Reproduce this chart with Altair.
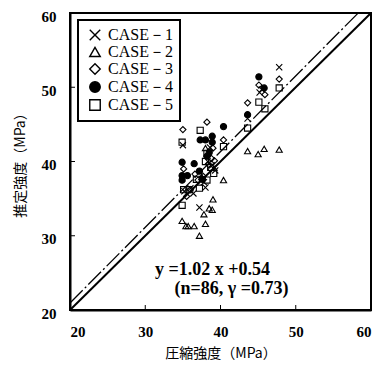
import altair as alt
import pandas as pd

case_names = ["CASE－1", "CASE－2", "CASE－3", "CASE－4", "CASE－5"]

c1_x = [47.8, 45.2, 43.6, 35.0, 37.2, 36.4, 38.6, 35.2, 37.8, 38.9, 39.2, 38.0, 36.0, 34.9, 38.3, 45.5, 39.3]
c1_y = [52.7, 49.3, 45.8, 42.2, 33.8, 35.7, 41.9, 36.0, 37.2, 39.5, 39.2, 36.5, 36.4, 37.7, 40.0, 49.7, 38.8]

c2_x = [43.6, 45.0, 45.8, 47.8, 40.4, 39.0, 38.5, 38.9, 37.8, 38.0, 34.9, 35.4, 35.7, 36.5, 37.2, 38.0, 37.5]
c2_y = [41.4, 41.0, 41.7, 41.6, 37.5, 34.9, 33.7, 33.5, 32.9, 31.6, 32.0, 31.3, 31.3, 31.3, 30.0, 41.8, 37.9]

c3_x = [47.8, 45.1, 45.9, 43.6, 40.4, 35.0, 38.2, 35.1, 36.6, 35.5, 38.4, 38.8, 39.2, 37.7, 36.0, 39.0, 38.7, 37.0]
c3_y = [51.1, 50.3, 49.0, 47.9, 42.9, 44.3, 45.3, 39.0, 38.3, 35.3, 39.6, 40.4, 40.1, 38.0, 36.2, 41.8, 39.0, 37.5]

c4_x = [45.1, 45.8, 43.6, 40.4, 37.3, 38.0, 38.9, 38.9, 38.2, 34.9, 36.5, 37.2, 34.9, 35.6, 34.9, 38.5, 37.6]
c4_y = [51.4, 49.9, 46.3, 44.7, 42.9, 42.9, 43.4, 42.6, 40.7, 39.9, 39.7, 38.7, 38.1, 38.1, 37.5, 41.2, 37.6]

c5_x = [47.8, 45.1, 45.9, 43.6, 40.4, 34.9, 37.3, 38.2, 38.2, 34.9, 35.1, 35.8, 37.2, 38.7, 39.1, 36.8, 38.0]
c5_y = [49.9, 48.0, 47.1, 44.5, 42.0, 42.6, 44.2, 41.1, 37.5, 34.1, 36.2, 36.2, 36.4, 39.2, 38.4, 37.6, 40.0]

axis_ticks = [20, 30, 40, 50, 60]
inner_ticks = [30, 40, 50]

line_1to1_x = [20, 60]
line_1to1_y = [20, 60]
reg_x = [20, 58.3]
reg_y = [20.94, 60.0]

eq_text = ["y =1.02 x +0.54", "(n=86, γ =0.73)"]
eq_x = [31.3, 33.9]
eq_y = [24.7, 22.2]

rows = []
for name, xs, ys in zip(case_names, [c1_x, c2_x, c3_x, c4_x, c5_x], [c1_y, c2_y, c3_y, c4_y, c5_y]):
    for a, b in zip(xs, ys):
        rows.append({"case": name, "x": a, "y": b})
df = pd.DataFrame(rows)

W, H = 301, 297
xs = alt.Scale(domain=[20, 60], nice=False)
ys = alt.Scale(domain=[20, 60], nice=False)

shape_range = ["M-1,-1L1,1M-1,1L1,-1", "triangle-up", "diamond", "circle", "square"]
fill_range = ["transparent", "transparent", "transparent", "black", "transparent"]
stroke_range = ["black", "black", "black", "black", "black"]

legend = alt.Legend(
    title=None, orient="none", legendX=8, legendY=7,
    strokeColor="black", fillColor="white", padding=7,
    labelFont="Liberation Serif", labelFontSize=16, labelColor="black",
    symbolSize=110, symbolStrokeWidth=1.4, symbolStrokeColor="black",
    rowPadding=0, labelOffset=5, symbolOffset=2,
)

points = alt.Chart(df).mark_point(strokeWidth=1.1, size=38, opacity=1).encode(
    x=alt.X("x:Q", scale=xs, title="圧縮強度（MPa）",
            axis=alt.Axis(values=axis_ticks, ticks=False, grid=False, labelPadding=14,
                          titlePadding=7)),
    y=alt.Y("y:Q", scale=ys, title="推定強度（MPa）",
            axis=alt.Axis(values=axis_ticks, ticks=False, grid=False, labelPadding=14,
                          labelOffset=3, titlePadding=14)),
    shape=alt.Shape("case:N", scale=alt.Scale(domain=case_names, range=shape_range), legend=legend),
    fill=alt.Fill("case:N", scale=alt.Scale(domain=case_names, range=fill_range), legend=legend),
    stroke=alt.Stroke("case:N", scale=alt.Scale(domain=case_names, range=stroke_range), legend=legend),
)

one = alt.Chart(pd.DataFrame({"x": line_1to1_x, "y": line_1to1_y})).mark_line(
    color="black", strokeWidth=2).encode(x=alt.X("x:Q", scale=xs), y=alt.Y("y:Q", scale=ys))

reg = alt.Chart(pd.DataFrame({"x": reg_x, "y": reg_y})).mark_line(
    color="black", strokeWidth=1.3, strokeDash=[18, 3, 2, 3]).encode(
    x=alt.X("x:Q", scale=xs), y=alt.Y("y:Q", scale=ys))

xt = alt.Chart(pd.DataFrame({"v": inner_ticks})).mark_rule(color="black", strokeWidth=1).encode(
    x=alt.X("v:Q", scale=xs), y=alt.value(H), y2=alt.value(H - 5))
yt = alt.Chart(pd.DataFrame({"v": inner_ticks})).mark_rule(color="black", strokeWidth=1).encode(
    y=alt.Y("v:Q", scale=ys), x=alt.value(0), x2=alt.value(5))

eqdf = pd.DataFrame({"t": eq_text, "x": eq_x, "y": eq_y})
eq = alt.Chart(eqdf).mark_text(align="left", baseline="alphabetic", font="Liberation Serif",
                               fontSize=18, fontWeight="bold", color="black").encode(
    x=alt.X("x:Q", scale=xs), y=alt.Y("y:Q", scale=ys), text="t:N")

chart = alt.layer(one, reg, xt, yt, points, eq).properties(
    width=W, height=H,
    autosize=alt.AutoSizeParams(type="none"),
    padding={"left": 62, "top": 5, "right": 1, "bottom": 52},
).configure_view(stroke="black", strokeWidth=2).configure_axis(
    domainColor="black", domainWidth=2,
    labelFont="Liberation Sans Narrow", labelFontSize=15, labelFontWeight="bold", labelColor="black",
    titleFont="Noto Sans CJK JP", titleFontSize=14, titleFontWeight="normal", titleColor="black",
).configure_legend(strokeWidth=2)

chart.save("out.html", embed_options={"renderer": "svg", "actions": False})
